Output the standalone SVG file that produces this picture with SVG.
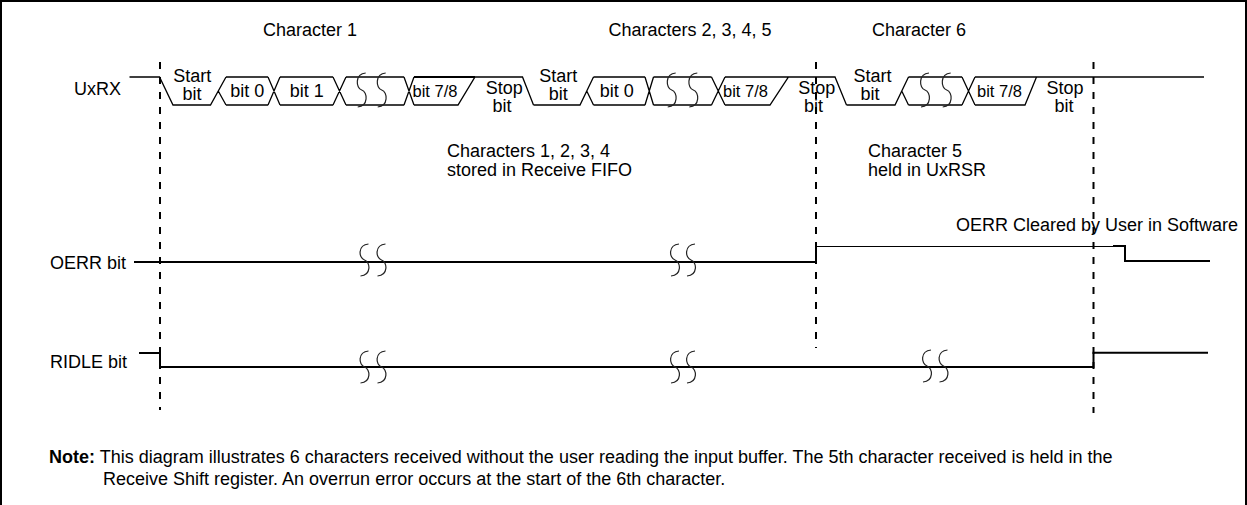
<svg xmlns="http://www.w3.org/2000/svg" width="1247" height="505" viewBox="0 0 1247 505">
<style>
text{font-family:"Liberation Sans",Arial,sans-serif;font-size:18px;fill:#000}
.c{text-anchor:middle}
.b78{font-size:16.5px;text-anchor:middle}
.w{fill:none;stroke:#000;stroke-width:1.3;stroke-linejoin:miter}
.wt{fill:none;stroke:#000;stroke-width:2}
.sig{fill:none;stroke:#000;stroke-width:2}
.dash{fill:none;stroke:#000;stroke-width:2;stroke-dasharray:7 8}
.brk{fill:none;stroke:#222;stroke-width:1.2}
</style>
<defs>
<path id="s34" d="M4,-17 C-7,-16 -6,-2 0,0 C6,2 7,16 -4,17"/>
<path id="s32" d="M4,-16 C-7,-15 -6,-2 0,0 C6,2 7,15 -4,16"/>
</defs>
<rect width="1247" height="505" fill="#fff"/>
<path d="M1,505 V1 H1246 V505" fill="none" stroke="#000" stroke-width="2"/>

<g id="titles">
<text x="263" y="35.5">Character 1</text>
<text class="c" x="690" y="35.5">Characters 2, 3, 4, 5</text>
<text class="c" x="919" y="35.5">Character 6</text>
</g>

<g id="labels">
<text x="74" y="95">UxRX</text>
<text x="50" y="268.5">OERR bit</text>
<text x="50" y="368">RIDLE bit</text>
</g>

<g id="connectors">
<line class="dash" x1="160" y1="62" x2="160" y2="410"/>
<line class="dash" x1="816" y1="62" x2="816" y2="348"/>
<line class="dash" x1="1093.5" y1="62" x2="1093.5" y2="413"/>
</g>

<g id="uxrx">
<path class="w" d="M129.5,77 H159.5 L173,105 H210.5 L226,77 M218.25,91 L226,105
M226,77 H268 M226,105 H268 M268,77 L280,105 M268,105 L280,77
M280,77 H333 M280,105 H333 M333,77 L346,105 M333,105 L346,77
M346,77 H404 M346,105 H404 M404,77 L414,105 M404,105 L414,77
M414,105 H458 L475,77 H522.5 L533.5,105"/>
<path class="wt" d="M414,77 H475"/>
<path class="w" d="M533.5,105 H580 L593.5,77 M586.75,91 L593.5,105
M593.5,77 H645 M593.5,105 H645 M645,77 L653.5,105 M645,105 L653.5,77
M653.5,77 H711.5 M653.5,105 H711.5 M711.5,77 L725,105 M711.5,105 L725,77
M725,77 H788.5 M725,105 H770 L788.5,77 H835 L846.5,105"/>
<path class="w" d="M846.5,105 H895 L908.5,77 M901.75,91 L908.5,105
M908.5,77 H962 M908.5,105 H962 M962,77 L975,105 M962,105 L975,77
M975,105 H1025 L1036.5,77"/>
<path class="w" d="M975,77 H1204" stroke-width="1.6"/>
<use href="#s34" class="brk" x="361.7" y="90"/>
<use href="#s34" class="brk" x="381.7" y="90"/>
<use href="#s34" class="brk" x="671.7" y="90"/>
<use href="#s34" class="brk" x="693.3" y="90"/>
<use href="#s34" class="brk" x="925" y="90"/>
<use href="#s34" class="brk" x="946.7" y="90"/>
<text class="c" x="192.3" y="81.7">Start</text>
<text class="c" x="192" y="99.5">bit</text>
<text class="c" x="247.3" y="97">bit 0</text>
<text class="c" x="306.7" y="97">bit 1</text>
<text class="b78" x="435" y="97">bit 7/8</text>
<text class="c" x="504.3" y="94">Stop</text>
<text class="c" x="502" y="112">bit</text>
<text class="c" x="558.3" y="81.7">Start</text>
<text class="c" x="558.3" y="99.5">bit</text>
<text class="c" x="616.7" y="97">bit 0</text>
<text class="b78" x="745.5" y="97">bit 7/8</text>
<text class="c" x="816.7" y="94">Stop</text>
<text class="c" x="813.5" y="112">bit</text>
<text class="c" x="872.5" y="81.7">Start</text>
<text class="c" x="870" y="99.5">bit</text>
<text class="b78" x="999.5" y="97">bit 7/8</text>
<text class="c" x="1065" y="94">Stop</text>
<text class="c" x="1064" y="112">bit</text>
</g>

<g id="fifo-note">
<text x="447" y="156.5">Characters 1, 2, 3, 4</text>
<text x="447" y="176">stored in Receive FIFO</text>
</g>
<g id="uxrsr-note">
<text x="868" y="156.5">Character 5</text>
<text x="868" y="176">held in UxRSR</text>
</g>
<g id="oerr-note">
<text x="1238" y="230.5" text-anchor="end">OERR Cleared by User in Software</text>
</g>

<g id="oerr">
<path class="sig" d="M134,262 H816 V246.5"/>
<path fill="none" stroke="#000" stroke-width="1.2" d="M816,246.5 H1113"/>
<path class="sig" d="M1113,246 H1125 V261 H1210"/>
<use href="#s32" class="brk" x="364.5" y="260"/>
<use href="#s32" class="brk" x="381.5" y="260"/>
<use href="#s32" class="brk" x="675" y="260"/>
<use href="#s32" class="brk" x="691" y="260"/>
</g>

<g id="ridle">
<path class="sig" d="M139,353 H160 V367 H1093.5 V352.7 H1208"/>
<use href="#s32" class="brk" x="364.5" y="367"/>
<use href="#s32" class="brk" x="381.5" y="367"/>
<use href="#s32" class="brk" x="675" y="367"/>
<use href="#s32" class="brk" x="691" y="367"/>
<use href="#s32" class="brk" x="927" y="366"/>
<use href="#s32" class="brk" x="943.5" y="366"/>
</g>

<g id="note">
<text x="49" y="463.3"><tspan font-weight="bold">Note:</tspan> This diagram illustrates 6 characters received without the user reading the input buffer. The 5th character received is held in the</text>
<text x="103" y="485">Receive Shift register. An overrun error occurs at the start of the 6th character.</text>
</g>
</svg>
